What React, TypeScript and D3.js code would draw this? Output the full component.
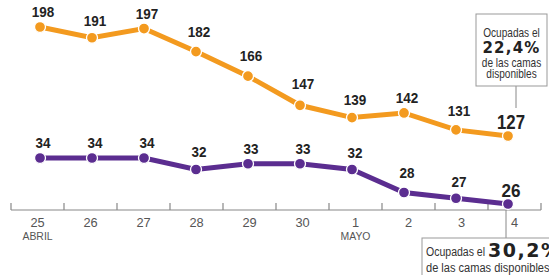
import React, { useEffect, useRef } from 'react';
import * as d3 from 'd3';

const days = ['25', '26', '27', '28', '29', '30', '1', '2', '3', '4'];
const months = ['ABRIL', '', '', '', '', '', 'MAYO', '', '', ''];
const orangeValues = [198, 191, 197, 182, 166, 147, 139, 142, 131, 127];
const purpleValues = [34, 34, 34, 32, 33, 33, 32, 28, 27, 26];

const ORANGE = '#f39a1f';
const PURPLE = '#5b2d90';
const SANS = "'Liberation Sans', Arial, sans-serif";
const HEAVY = "'DejaVu Sans', sans-serif";

type Sel = d3.Selection<SVGGElement, unknown, null, undefined>;

// text squeezed horizontally, to mimic the condensed face of the original
const narrowText = (g: Sel, x: number, y: number, txt: string, size: number, sx = 0.85, anchor = 'middle') =>
  g.append('text')
    .attr('transform', `translate(${x},${y}) scale(${sx},1)`)
    .attr('text-anchor', anchor)
    .attr('font-family', SANS)
    .attr('font-size', size)
    .text(txt);

const App = () => {
  const ref = useRef<SVGSVGElement>(null);

  useEffect(() => {
    const svg = d3.select(ref.current).attr('width', 549).attr('height', 275);
    svg.selectAll('*').remove();
    const root = svg.append('g') as Sel;

    const xPoint = d3.scalePoint<string>().domain(days).range([40, 508]);
    const xBand = d3.scaleBand<string>().domain(days).range([11, 541]);
    const yOrange = d3.scaleLinear().domain([127, 198]).range([136, 27]);
    const yPurple = d3.scaleLinear().domain([26, 34]).range([204, 158]);

    // axis
    const axis = root.append('g').attr('transform', 'translate(0,210)') as Sel;
    axis.append('line').attr('x1', 11).attr('x2', 541).attr('stroke', '#888').attr('stroke-width', 1.2);
    axis.selectAll('.tk')
      .data([...days.map(d => xBand(d) as number), 541])
      .enter().append('line')
      .attr('x1', d => d).attr('x2', d => d)
      .attr('y1', -7).attr('y2', 0)
      .attr('stroke', '#888').attr('stroke-width', 1.2);
    days.forEach((d, i) => {
      const cx = (xBand(d) as number) + xBand.bandwidth() / 2;
      narrowText(axis, cx, 17, d, 13.5, 0.95).attr('fill', '#555');
      if (months[i]) narrowText(axis, cx, 30, months[i], 11, 0.95).attr('fill', '#555');
    });

    const drawSeries = (values: number[], y: d3.ScaleLinear<number, number>, color: string, bigSize: number, bigSx: number) => {
      const g = root.append('g') as Sel;
      const line = d3.line<number>()
        .x((d, i) => xPoint(days[i]) as number)
        .y(d => y(d));
      g.append('path')
        .attr('d', line(values))
        .attr('fill', 'none')
        .attr('stroke', color)
        .attr('stroke-width', 5);
      g.selectAll('circle')
        .data(values)
        .enter().append('circle')
        .attr('cx', (d, i) => xPoint(days[i]) as number)
        .attr('cy', d => y(d))
        .attr('r', 5.5)
        .attr('fill', color)
        .attr('stroke', '#fff')
        .attr('stroke-width', 1.3);
      const last = values.length - 1;
      values.forEach((d, i) => {
        const yi = y(d);
        const prev = i > 0 ? y(values[i - 1]) : yi;
        const ly = i === last ? yi - 7 : yi - 10 - Math.max(0, yi - prev) * 0.2;
        narrowText(g, (xPoint(days[i]) as number) + 3, ly, String(d),
          i === last ? bigSize : 15, i === last ? bigSx : 0.9)
          .attr('font-weight', 'bold')
          .attr('fill', '#222');
      });
    };

    drawSeries(orangeValues, yOrange, ORANGE, 21, 0.8);
    drawSeries(purpleValues, yPurple, PURPLE, 18, 0.95);

    // top annotation
    root.append('line').attr('x1', 516).attr('x2', 516).attr('y1', 86).attr('y2', 108)
      .attr('stroke', '#888').attr('stroke-width', 1);
    root.append('rect').attr('x', 476).attr('y', 14).attr('width', 71).attr('height', 72)
      .attr('fill', '#fff').attr('stroke', '#999').attr('stroke-width', 1);
    const top = root.append('g').attr('fill', '#333') as Sel;
    narrowText(top, 511.5, 37, 'Ocupadas el', 12, 0.84);
    top.append('text').attr('x', 511.5).attr('y', 53)
      .attr('text-anchor', 'middle')
      .attr('font-family', HEAVY).attr('font-weight', 'bold')
      .attr('font-size', 15).attr('letter-spacing', 1.2).attr('fill', '#222').text('22,4%');
    narrowText(top, 511.5, 67, 'de las camas', 12, 0.84);
    narrowText(top, 511.5, 78, 'disponibles', 12, 0.84);

    // bottom annotation
    root.append('line').attr('x1', 506).attr('x2', 506).attr('y1', 210).attr('y2', 238)
      .attr('stroke', '#888').attr('stroke-width', 1);
    root.append('rect').attr('x', 422).attr('y', 238).attr('width', 140).attr('height', 50)
      .attr('fill', '#fff').attr('stroke', '#999').attr('stroke-width', 1);
    const bot = root.append('g').attr('fill', '#333') as Sel;
    narrowText(bot, 426, 256, 'Ocupadas el', 13.5, 0.78, 'start');
    bot.append('text').attr('x', 488).attr('y', 257)
      .attr('font-family', HEAVY).attr('font-weight', 'bold')
      .attr('font-size', 19).attr('letter-spacing', 1.5).attr('fill', '#222').text('30,2%');
    narrowText(bot, 426, 272, 'de las camas disponibles', 13.5, 0.82, 'start');
  }, []);

  return <svg ref={ref} style={{ position: 'absolute', left: 0, top: 0 }}></svg>;
};

export default App;
